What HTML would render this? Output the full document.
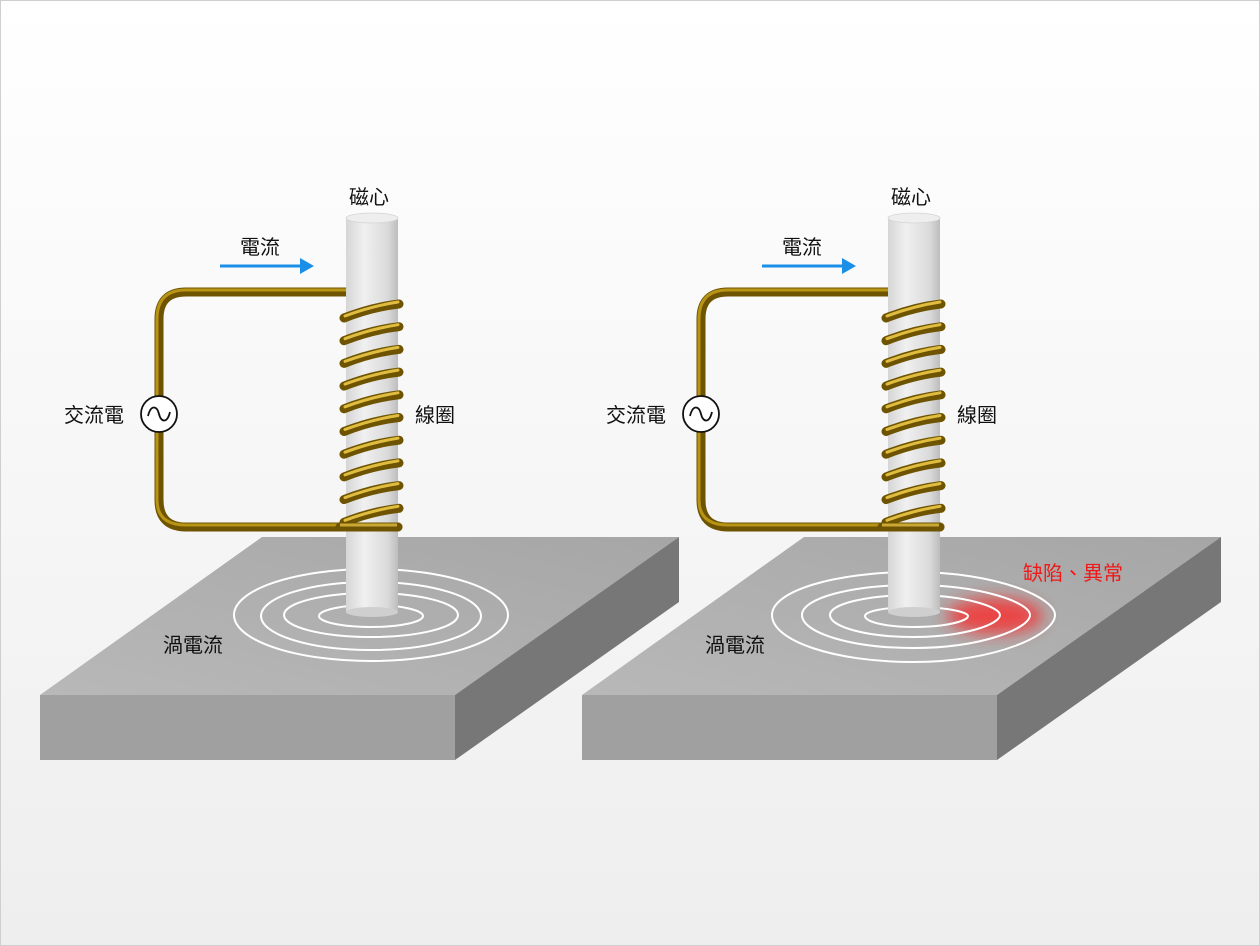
<!DOCTYPE html>
<html><head><meta charset="utf-8"><style>
html,body{margin:0;padding:0;}
body{width:1260px;height:946px;overflow:hidden;background:#fff;}
svg{display:block;}
text{font-family:"Liberation Sans","Noto Sans CJK TC",sans-serif;font-size:20px;fill:#111;}
</style></head><body>
<svg width="1260" height="946" viewBox="0 0 1260 946" xmlns="http://www.w3.org/2000/svg">
<defs>
<linearGradient id="bg" x1="0" y1="0" x2="0" y2="1">
<stop offset="0" stop-color="#ffffff"/><stop offset="1" stop-color="#eeeeee"/></linearGradient>
<linearGradient id="core" x1="0" y1="0" x2="1" y2="0">
<stop offset="0" stop-color="#d6d6d6"/><stop offset="0.35" stop-color="#f0f0f0"/><stop offset="0.8" stop-color="#dadada"/><stop offset="1" stop-color="#bdbdbd"/></linearGradient>
<linearGradient id="topface" x1="0" y1="1" x2="1" y2="0">
<stop offset="0" stop-color="#b8b8b8"/><stop offset="1" stop-color="#a6a6a6"/></linearGradient>
<filter id="blur" x="-50%" y="-100%" width="200%" height="300%"><feGaussianBlur stdDeviation="8"/></filter>
<g id="scene">
<polygon points="40,695 262,537 679,537 455,695" fill="url(#topface)"/>
<polygon points="40,695 455,695 455,760 40,760" fill="#a0a0a0"/>
<polygon points="455,695 679,537 679,602 455,760" fill="#777777"/>
<line x1="220" y1="266" x2="302" y2="266" stroke="#1a8fe8" stroke-width="3"/>
<polygon points="300,258 314,266 300,274" fill="#1a8fe8"/>
<path d="M348,292 H186 Q159,292 159,319 V500 Q159,527 186,527 H398" fill="none" stroke="#6e5400" stroke-width="9" stroke-linecap="round"/>
<path d="M348,290 H186 Q157,290 157,319 V500 Q157,525 186,525 H398" fill="none" stroke="#c9a21c" stroke-width="3" opacity="0.8"/>
</g>
<g id="coil">
<rect x="346" y="218" width="52" height="394" fill="url(#core)"/>
<ellipse cx="372" cy="612" rx="26" ry="5" fill="#cfcfcf"/>
<ellipse cx="372" cy="218" rx="26" ry="5" fill="#eeeeee" stroke="#d4d4d4" stroke-width="0.8"/>
</g>
<g id="t1" fill="none"><path d="M344,318 Q372,307 399,304" stroke="#6e5400" stroke-width="9" stroke-linecap="round"/><path d="M345,316 Q372,306 398,302" stroke="#e0bd40" stroke-width="3" stroke-linecap="round"/></g>
</defs>
<rect x="0" y="0" width="1260" height="946" fill="url(#bg)"/>
<rect x="0.5" y="0.5" width="1259" height="945" fill="none" stroke="#cfcfcf"/>

<use href="#scene"/>
<g fill="none" stroke="#fff" stroke-width="2">
<ellipse cx="371" cy="615" rx="137" ry="46"/>
<ellipse cx="371" cy="616" rx="110" ry="34"/>
<ellipse cx="371" cy="615" rx="87" ry="22"/>
<ellipse cx="371" cy="616" rx="52" ry="11"/>
</g>
<use href="#coil"/>
<use href="#t1"/><use href="#t1" y="22.7"/><use href="#t1" y="45.4"/><use href="#t1" y="68.1"/><use href="#t1" y="90.8"/>
<use href="#t1" y="113.5"/><use href="#t1" y="136.2"/><use href="#t1" y="158.9"/><use href="#t1" y="181.6"/><use href="#t1" y="204.3"/>
<path d="M340,527 H398" stroke="#6e5400" stroke-width="9" stroke-linecap="round"/>
<path d="M340,525 H397" stroke="#e0bd40" stroke-width="3" opacity="0.8"/>
<circle cx="159" cy="414" r="18" fill="#fff" stroke="#111" stroke-width="1.8"/>
<path d="M148,416 C151,404 157,406 159,414 C161,422 167,424 170,412" fill="none" stroke="#111" stroke-width="1.8"/>
<text x="349" y="204">磁心</text>
<text x="240" y="254">電流</text>
<text x="64" y="422">交流電</text>
<text x="415" y="422">線圈</text>
<text x="163" y="652">渦電流</text>

<g transform="translate(542,0)">
<use href="#scene"/>
</g>
<ellipse cx="995" cy="616" rx="48" ry="18" fill="#ff2020" opacity="0.75" filter="url(#blur)"/>
<g fill="none" stroke="#fff" stroke-width="2">
<path d="M772,615 C772,591 835,572 913,572 C998,572 1055,598 1055,615 C1055,634 998,662 913,662 C835,662 772,641 772,615Z"/>
<path d="M802,615 C802,598 852,585 913,585 C983,585 1030,603 1030,615 C1030,628 983,648 913,648 C852,648 802,633 802,615Z"/>
<path d="M830,615 C830,604 867,595 913,595 C965,595 1000,607 1000,615 C1000,624 965,637 913,637 C867,637 830,627 830,615Z"/>
<path d="M865,616 C865,611 887,607 913,607 C946,607 968,612 968,616 C968,621 946,627 913,627 C887,627 865,622 865,616Z"/>
</g>
<g transform="translate(542,0)">
<use href="#coil"/>
<use href="#t1"/><use href="#t1" y="22.7"/><use href="#t1" y="45.4"/><use href="#t1" y="68.1"/><use href="#t1" y="90.8"/>
<use href="#t1" y="113.5"/><use href="#t1" y="136.2"/><use href="#t1" y="158.9"/><use href="#t1" y="181.6"/><use href="#t1" y="204.3"/>
<path d="M340,527 H398" stroke="#6e5400" stroke-width="9" stroke-linecap="round"/>
<path d="M340,525 H397" stroke="#e0bd40" stroke-width="3" opacity="0.8"/>
<circle cx="159" cy="414" r="18" fill="#fff" stroke="#111" stroke-width="1.8"/>
<path d="M148,416 C151,404 157,406 159,414 C161,422 167,424 170,412" fill="none" stroke="#111" stroke-width="1.8"/>
<text x="349" y="204">磁心</text>
<text x="240" y="254">電流</text>
<text x="64" y="422">交流電</text>
<text x="415" y="422">線圈</text>
<text x="163" y="652">渦電流</text>
</g>
<text x="1023" y="580" style="fill:#f01818">缺陷、異常</text>
</svg>
</body></html>
